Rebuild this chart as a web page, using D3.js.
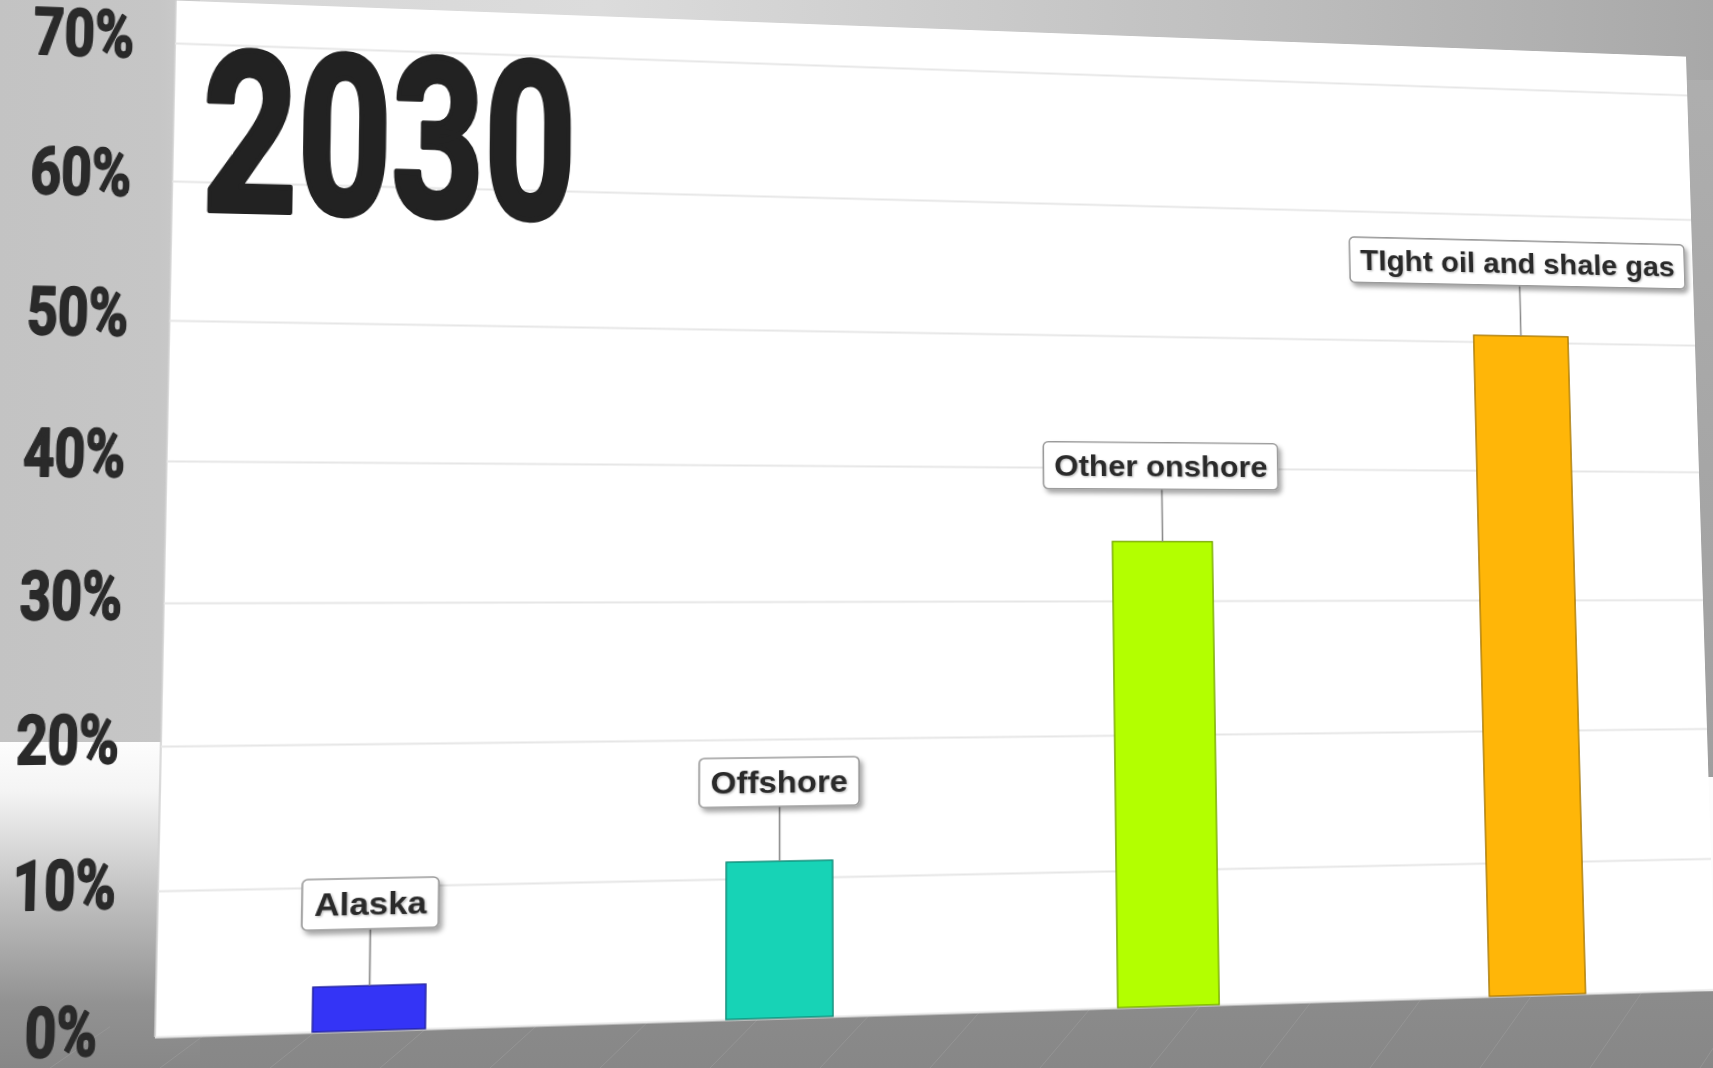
<!DOCTYPE html>
<html><head><meta charset="utf-8">
<script src="https://cdn.jsdelivr.net/npm/d3@7"></script>
<style>
html,body{margin:0;padding:0;width:1713px;height:1068px;overflow:hidden;background:#9c9c9c;}
#bg{position:absolute;left:0;top:0;}
#plane{position:absolute;left:0;top:0;transform-origin:0 0;}
</style></head><body>
<svg id="bg" width="1713" height="1068"></svg>
<div id="plane"></div>
<script>
// ---------- data ----------
const categories = ["Alaska", "Offshore", "Other onshore", "TIght oil and shale gas"];
const shares = [3.1, 11.2, 34.45, 50.5];
const barColors = ["#3434f6", "#17d3b6", "#b3ff00", "#ffb608"];
const tickValues = [0, 10, 20, 30, 40, 50, 60, 70];
const tickLabels = ["0%", "10%", "20%", "30%", "40%", "50%", "60%", "70%"];
const yearLabel = "2030";

// ---------- projective plane ----------
const FW = 1540, FH = 994, OX = 200, OY = 100;
const quad = [[175, 43], [1687, 95], [1715, 989.5], [155, 1037]];

function solve(A, b) {
  const n = b.length, M = A.map((r, i) => [...r, b[i]]);
  for (let c = 0; c < n; c++) {
    let p = c;
    for (let r = c + 1; r < n; r++) if (Math.abs(M[r][c]) > Math.abs(M[p][c])) p = r;
    [M[c], M[p]] = [M[p], M[c]];
    for (let r = 0; r < n; r++) {
      if (r === c) continue;
      const f = M[r][c] / M[c][c];
      for (let k = c; k <= n; k++) M[r][k] -= f * M[c][k];
    }
  }
  return M.map((r, i) => r[n] / r[i]);
}
function homography(src, dst) {
  const A = [], b = [];
  for (let i = 0; i < 4; i++) {
    const [x, y] = src[i], [X, Y] = dst[i];
    A.push([x, y, 1, 0, 0, 0, -x * X, -y * X]); b.push(X);
    A.push([0, 0, 0, x, y, 1, -x * Y, -y * Y]); b.push(Y);
  }
  return solve(A, b);
}
const src = [[OX, OY], [OX + FW, OY], [OX + FW, OY + FH], [OX, OY + FH]];
const h = homography(src, quad);

// ---------- background ----------
const bg = d3.select("#bg");
const defs = bg.append("defs");
function lin(id, vertical, stops) {
  const g = defs.append("linearGradient").attr("id", id)
    .attr("x1", 0).attr("y1", 0).attr("x2", vertical ? 0 : 1).attr("y2", vertical ? 1 : 0);
  stops.forEach(([o, c]) => g.append("stop").attr("offset", o).attr("stop-color", c));
}
lin("base", true, [[0, "#b0b0b0"], [0.7, "#a0a0a0"], [0.9, "#8d8d8d"], [1, "#878787"]]);
lin("topStrip", false, [[0, "#d4d4d4"], [0.35, "#dcdcdc"], [0.75, "#bdbdbd"], [1, "#a8a8a8"]]);
lin("leftLow", true, [[0, "#fdfdfd"], [0.15, "#f4f4f4"], [0.45, "#c4c4c4"], [0.8, "#929292"], [1, "#878787"]]);
lin("leftTop", false, [[0, "#c3c3c3"], [0.8, "#c6c6c6"], [1, "#cdcdcd"]]);

bg.append("rect").attr("width", 1713).attr("height", 1068).attr("fill", "url(#base)");
bg.append("rect").attr("width", 1713).attr("height", 80).attr("fill", "url(#topStrip)");
bg.append("rect").attr("x", 0).attr("y", 0).attr("width", 200).attr("height", 742).attr("fill", "url(#leftTop)");
bg.append("rect").attr("x", 0).attr("y", 742).attr("width", 200).attr("height", 326).attr("fill", "url(#leftLow)");
bg.append("rect").attr("x", 1700).attr("y", 777).attr("width", 13).attr("height", 214).attr("fill", "#fcfcfc");
// faint floor lines
const floorG = bg.append("g").attr("stroke", "#9c9c9c").attr("stroke-width", 1).attr("opacity", 0.6);
d3.range(0, 1800, 110).forEach(xx => {
  floorG.append("line").attr("x1", xx).attr("y1", 1030 - xx * 0.03).attr("x2", xx - 60).attr("y2", 1068);
});

// ---------- plane content ----------
const plane = d3.select("#plane")
  .style("width", "2000px").style("height", "1250px")
  .style("transform", `matrix3d(${h[0]},${h[3]},0,${h[6]},${h[1]},${h[4]},0,${h[7]},0,0,1,0,${h[2]},${h[5]},0,1)`);
const svg = plane.append("svg").attr("width", 2000).attr("height", 1250);
const pdefs = svg.append("defs");
pdefs.append("filter").attr("id", "shadow").attr("x", "-20%").attr("y", "-30%").attr("width", "150%").attr("height", "180%")
  .append("feDropShadow").attr("dx", 3).attr("dy", 4).attr("stdDeviation", 2.5)
  .attr("flood-color", "#000").attr("flood-opacity", 0.35);
pdefs.append("filter").attr("id", "tshadow")
  .append("feDropShadow").attr("dx", 1).attr("dy", 1).attr("stdDeviation", 0.8)
  .attr("flood-color", "#000").attr("flood-opacity", 0.3);

const g = svg.append("g").attr("transform", `translate(${OX},${OY})`);

const y = d3.scaleLinear().domain([0, 70]).range([FH, 0]);
const x = d3.scaleBand().domain(categories).range([0, FW]).paddingInner(0.732).paddingOuter(0.366);

// panel
g.append("rect").attr("x", 0).attr("y", -44).attr("width", FW).attr("height", FH + 44).attr("fill", "#ffffff");
g.append("line").attr("x1", 0).attr("x2", 0).attr("y1", -44).attr("y2", FH).attr("stroke", "#cfcfcf").attr("stroke-width", 1.5);

// gridlines
const yAxis = d3.axisLeft(y).tickValues(tickValues).tickSize(-FW).tickFormat("");
const grid = g.append("g").call(yAxis);
grid.select(".domain").remove();
grid.selectAll(".tick line").attr("stroke", "#e6e6e6").attr("stroke-width", 2);

// tick labels (left column)
g.selectAll("text.tick").data(tickValues).join("text").attr("class", "tick")
  .attr("transform", d => `translate(-83,${y(d) + 16}) scale(0.72,1)`)
  .attr("text-anchor", "middle")
  .attr("font-family", "Roboto, 'DejaVu Sans', sans-serif").attr("font-weight", 700)
  .attr("font-size", 67).attr("fill", "#2a2a2a")
  .attr("stroke", "#2a2a2a").attr("stroke-width", 2).attr("stroke-linejoin", "round")
  .text((d, i) => tickLabels[i]);

// year title
g.append("text").attr("transform", "translate(27,171) scale(0.666,1)")
  .attr("font-family", "Roboto, 'DejaVu Sans', sans-serif").attr("font-weight", 700)
  .attr("font-size", 230).attr("fill", "#222").attr("stroke", "#222").attr("stroke-width", 6)
  .attr("stroke-linejoin", "round").text(yearLabel);

// bars
const data = categories.map((c, i) => ({ cat: c, value: shares[i], color: barColors[i] }));
g.selectAll("rect.bar").data(data).join("rect").attr("class", "bar")
  .attr("x", d => x(d.cat)).attr("width", x.bandwidth())
  .attr("y", d => y(d.value)).attr("height", d => y(0) - y(d.value))
  .attr("fill", d => d.color)
  .attr("stroke", d => d3.color(d.color).darker(1.3)).attr("stroke-width", 1.3);

// callout labels
const GAP = 56, BH = 50, PADX = 11;
const lab = g.selectAll("g.lab").data(data).join("g").attr("class", "lab")
  .attr("transform", d => `translate(${x(d.cat) + x.bandwidth() / 2},${y(d.value)})`);
lab.append("line").attr("x1", 0).attr("x2", 0).attr("y1", 0).attr("y2", -GAP)
  .attr("stroke", "#8a8a8a").attr("stroke-width", 1.6);
const boxes = lab.append("rect");
const texts = lab.append("text")
  .attr("x", 0).attr("y", -GAP - BH / 2 + 11.5)
  .attr("text-anchor", "middle")
  .attr("font-family", "'Liberation Sans', Arial, sans-serif").attr("font-weight", 700)
  .attr("font-size", 32).attr("fill", "#2b2b2b").attr("filter", "url(#tshadow)")
  .text(d => d.cat);
texts.each(function (d) { d.tw = this.getComputedTextLength(); });
boxes.attr("x", d => -d.tw / 2 - PADX).attr("width", d => d.tw + 2 * PADX)
  .attr("y", -GAP - BH).attr("height", BH).attr("rx", 5)
  .attr("fill", "#fff").attr("stroke", "#9a9a9a").attr("stroke-width", 1.6)
  .attr("filter", "url(#shadow)");
</script>
</body></html>
